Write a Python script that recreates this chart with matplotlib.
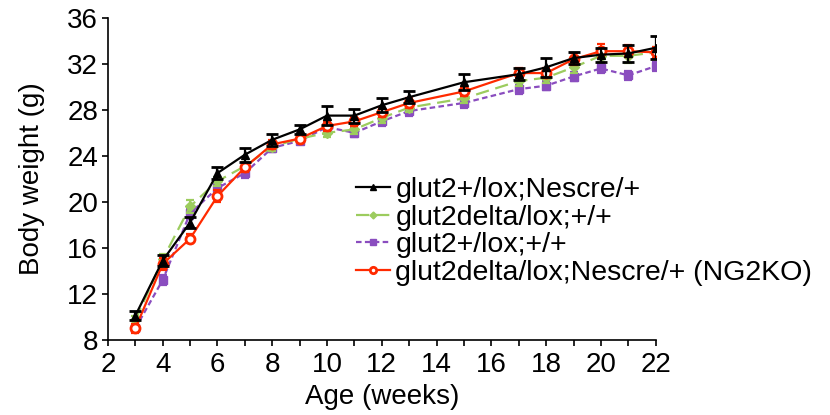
import numpy as np
import matplotlib
matplotlib.use('Agg')
import matplotlib.pyplot as plt
from matplotlib.ticker import MultipleLocator

plt.rcParams['font.family'] = ['Liberation Sans', 'DejaVu Sans']

# Ages (weeks) and mean body weights (g) per genotype.
weeks = [3, 4, 5, 6, 7, 8, 9, 10, 11, 12, 13, 15, 17, 18, 19, 20, 21, 22]

black_vals = [10.1, 14.9, 18.2, 22.5, 24.1, 25.4, 26.3, 27.5, 27.5, 28.4, 29.1, 30.4, 31.1, 31.7, 32.5, 32.8, 32.9, 33.4]
black_err = [0.4, 0.5, 0.5, 0.5, 0.6, 0.5, 0.4, 0.8, 0.6, 0.6, 0.5, 0.7, 0.5, 0.8, 0.5, 0.6, 0.7, 1.0]

green_vals = [9.7, 15.0, 19.6, 21.8, 23.1, 24.8, 25.5, 26.0, 26.3, 27.3, 28.2, 29.0, 30.5, 30.8, 31.7, 32.7, 32.7, 33.0]
green_err = [0.4, 0.5, 0.6, 0.4, 0.4, 0.4, 0.3, 0.4, 0.4, 0.4, 0.4, 0.4, 0.4, 0.5, 0.5, 0.5, 0.6, 0.5]

purple_vals = [9.0, 13.2, 19.0, 21.2, 22.5, 24.7, 25.3, 26.5, 26.0, 27.0, 27.9, 28.6, 29.8, 30.1, 30.9, 31.6, 31.0, 31.8]
purple_err = [0.3, 0.4, 0.5, 0.4, 0.4, 0.4, 0.3, 0.4, 0.4, 0.4, 0.4, 0.4, 0.4, 0.4, 0.4, 0.4, 0.4, 0.4]

red_vals = [9.0, 14.6, 16.8, 20.5, 23.0, 25.0, 25.5, 26.6, 27.0, 27.8, 28.6, 29.6, 31.2, 31.2, 32.4, 33.1, 33.1, 33.0]
red_err = [0.4, 0.5, 0.4, 0.5, 0.4, 0.4, 0.3, 0.4, 0.4, 0.4, 0.4, 0.4, 0.4, 0.4, 0.5, 0.6, 0.5, 0.5]

labels = ['glut2+/lox;Nescre/+', 'glut2delta/lox;+/+', 'glut2+/lox;+/+', 'glut2delta/lox;Nescre/+ (NG2KO)']

fig = plt.figure(figsize=(8.3, 4.15), dpi=100)
ax = fig.add_axes([0.130, 0.181, 0.660, 0.776])

# Error bars first, lines on top (legend built from the plain lines).
ax.errorbar(weeks, purple_vals, yerr=purple_err, fmt='none', ecolor='#8a4dbf', elinewidth=1.4,
            capsize=3, capthick=1.6, zorder=2)
ax.errorbar(weeks, green_vals, yerr=green_err, fmt='none', ecolor='#9ccc5e', elinewidth=1.4,
            capsize=3, capthick=1.6, zorder=3)
ax.errorbar(weeks, red_vals, yerr=red_err, fmt='none', ecolor='#ff2a00', elinewidth=1.4,
            capsize=3, capthick=1.6, zorder=4)
ax.errorbar(weeks, black_vals, yerr=black_err, fmt='none', ecolor='black', elinewidth=1.6,
            capsize=4, capthick=2, zorder=5)

h_black, = ax.plot(weeks, black_vals, color='black', lw=1.6, marker='^', ms=6,
                   label=labels[0], zorder=5)
h_green, = ax.plot(weeks, green_vals, color='#9ccc5e', lw=1.6, marker='D', ms=5,
                   dashes=(6, 3), label=labels[1], zorder=3)
h_purple, = ax.plot(weeks, purple_vals, color='#8a4dbf', lw=1.6, marker='s', ms=6,
                    dashes=(2.5, 1.5), label=labels[2], zorder=2)
h_red, = ax.plot(weeks, red_vals, color='#ff2a00', lw=1.6, marker='o', ms=6.5,
                 mfc='white', mew=2, label=labels[3], zorder=4)

ax.set_xlim(2, 22)
ax.set_ylim(8, 36)
ax.set_xticks(range(2, 23, 2))
ax.xaxis.set_minor_locator(MultipleLocator(1))
ax.set_yticks(range(8, 37, 4))
ax.tick_params(axis='both', which='major', labelsize=20, direction='out', length=4, width=1.2, pad=3)
ax.tick_params(axis='x', which='major', pad=5)
ax.tick_params(axis='x', which='minor', direction='out', length=4, width=1.2)
ax.spines['top'].set_visible(False)
ax.spines['right'].set_visible(False)
ax.spines['left'].set_linewidth(1.2)
ax.spines['bottom'].set_linewidth(1.2)

ax.set_xlabel('Age (weeks)', fontsize=20, labelpad=4)
ax.set_ylabel('Body weight (g)', fontsize=20, labelpad=16)

ax.legend(handles=[h_black, h_green, h_purple, h_red], loc='upper left',
          bbox_to_anchor=(0.452, 0.505), frameon=False, fontsize=20.5,
          handlelength=1.22, handletextpad=0.18, labelspacing=0.05, borderpad=0,
          borderaxespad=0, markerscale=0.7)

fig.savefig('out.png', dpi=100)
